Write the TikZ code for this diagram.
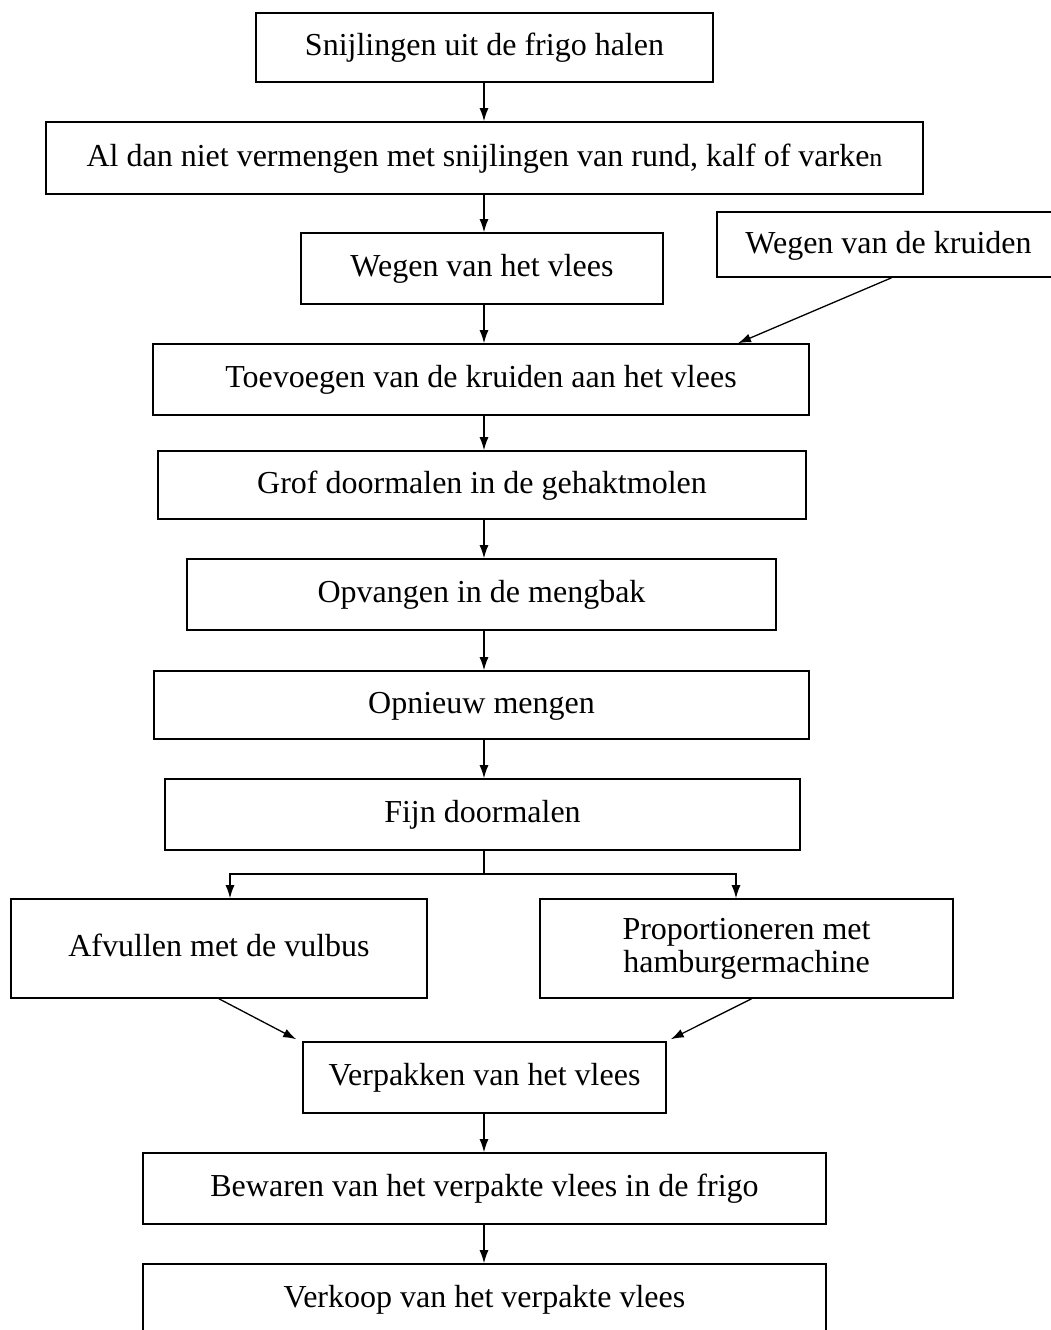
\documentclass[tikz,border=0pt]{standalone}
\usepackage{fontspec}
\setmainfont{Liberation Serif}
\usetikzlibrary{arrows.meta,calc}
\tikzset{
  box/.style={draw, line width=1.6pt, inner sep=0pt, align=center,
    font=\fontsize{32}{32}\selectfont, text height=23pt, text depth=7pt},
  arr/.style={line width=1.3pt, -{Latex[length=13pt,width=9pt]}},
  ln/.style={line width=1.3pt}
}
\begin{document}
\begin{tikzpicture}[x=1pt,y=1pt]
\useasboundingbox (0,0) rectangle (1050,-1330);
\node[box, minimum width=457pt, minimum height=69pt] (s1) at (484.5,-47.5) {Snijlingen uit de frigo halen};
\node[box, minimum width=877pt, minimum height=72pt] (s2) at (484.5,-158) {Al dan niet vermengen met snijlingen van rund, kalf of varke{\fontsize{26}{30}\selectfont n}};
\node[box, minimum width=362pt, minimum height=71pt] (s3) at (482,-268.5) {Wegen van het vlees};
\node[box, minimum width=343pt, minimum height=65pt, text height=23pt, text depth=6pt] (k) at (888.5,-244.5) {Wegen van de kruiden};
\node[box, minimum width=656pt, minimum height=71pt] (s4) at (481,-379.5) {Toevoegen van de kruiden aan het vlees};
\node[box, minimum width=648pt, minimum height=68pt] (s5) at (482,-485) {Grof doormalen in de gehaktmolen};
\node[box, minimum width=589pt, minimum height=71pt] (s6) at (481.5,-594.5) {Opvangen in de mengbak};
\node[box, minimum width=655pt, minimum height=68pt] (s7) at (481.5,-705) {Opnieuw mengen};
\node[box, minimum width=635pt, minimum height=71pt] (s8) at (482.5,-814.5) {Fijn doormalen};
\node[box, minimum width=416pt, minimum height=99pt] (a) at (219,-948.5) {Afvullen met de vulbus};
\node[box, minimum width=413pt, minimum height=99pt, text height=, text depth=, font=\fontsize{32}{33}\selectfont] (p) at (746.5,-948.5) {Proportioneren met\\hamburgermachine};
\node[box, minimum width=363pt, minimum height=71pt] (v) at (484.5,-1077.5) {Verpakken van het vlees};
\node[box, minimum width=683pt, minimum height=71pt] (b) at (484.5,-1188.5) {Bewaren van het verpakte vlees in de frigo};
\node[box, minimum width=683pt, minimum height=71pt] (vk) at (484.5,-1299.5) {Verkoop van het verpakte vlees};

\coordinate (ax) at (484,0);
\coordinate (kt) at (738,0);
\coordinate (sp) at (484,-874);
\coordinate (al) at (230,-874);
\coordinate (pr) at (736,-874);

\draw[arr] (s1.south -| ax) -- (s2.north -| ax);
\draw[arr] (s2.south -| ax) -- (s3.north -| ax);
\draw[arr] (s3.south -| ax) -- (s4.north -| ax);
\draw[arr] ($(k.south)+(3,0)$) -- (s4.north -| kt);
\draw[arr] (s4.south -| ax) -- (s5.north -| ax);
\draw[arr] (s5.south -| ax) -- (s6.north -| ax);
\draw[arr] (s6.south -| ax) -- (s7.north -| ax);
\draw[arr] (s7.south -| ax) -- (s8.north -| ax);
\draw[ln] (s8.south -| ax) -- (sp);
\draw[arr] (sp) -- (al) -- (a.north -| al);
\draw[arr] (sp) -- (pr) -- (p.north -| pr);
\draw[arr] (a.south) -- ($(v.north west)+(-6,2)$);
\draw[arr] ($(p.south)+(5,0)$) -- ($(v.north east)+(4,2)$);
\draw[arr] (v.south -| ax) -- (b.north -| ax);
\draw[arr] (b.south -| ax) -- (vk.north -| ax);
\end{tikzpicture}
\end{document}
